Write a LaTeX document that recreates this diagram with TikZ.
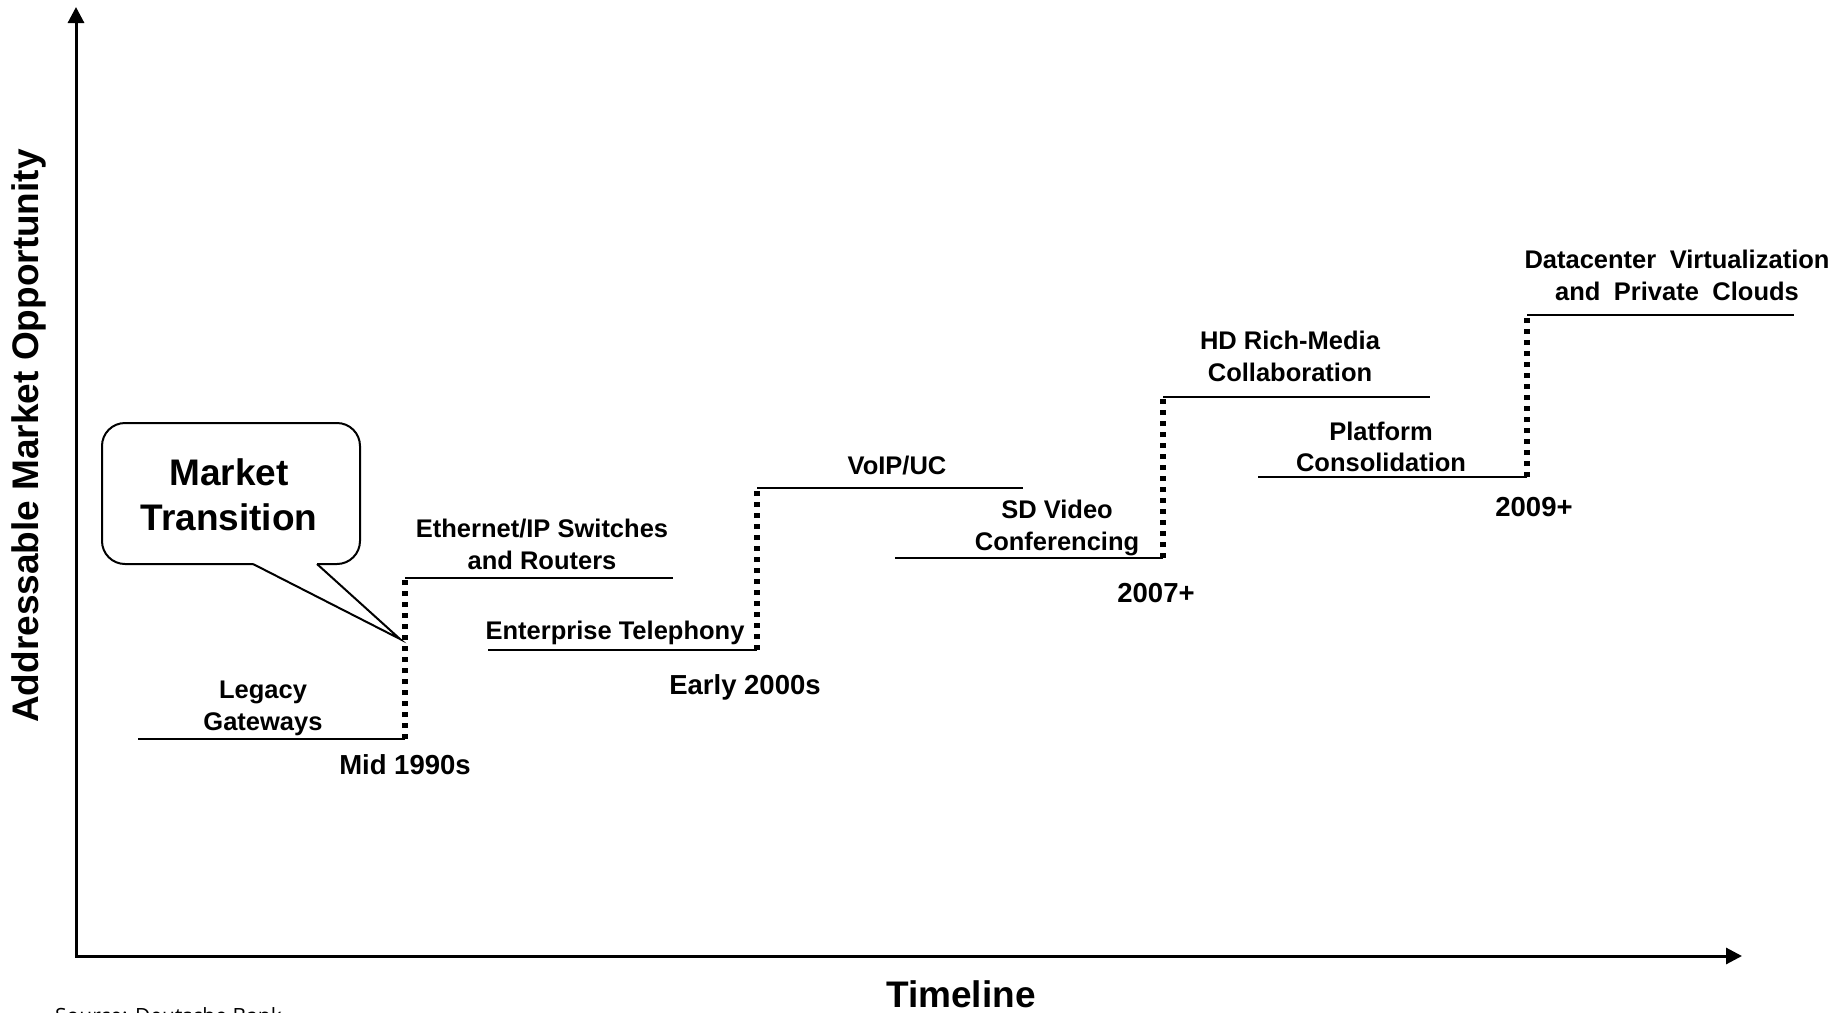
\documentclass[tikz,border=0pt]{standalone}
\usepackage{fontspec}
\setmainfont{Liberation Sans}
\newfontfamily\srcfont{Open Sans}
\usetikzlibrary{arrows.meta}
\tikzset{
  lbl/.style={font=\bfseries\fontsize{25.5}{32}\selectfont, align=center, inner sep=0pt},
  onelbl/.style={font=\bfseries\fontsize{25.5}{32}\selectfont, inner sep=0pt, text height=18.4pt, text depth=0pt},
  yr/.style={font=\bfseries\fontsize{27.5}{32}\selectfont, inner sep=0pt, text height=19.8pt, text depth=0pt},
  big/.style={font=\bfseries\fontsize{37}{45}\selectfont, align=center, inner sep=0pt},
  stepline/.style={line width=2.5pt},
  riser/.style={line width=5.5pt, dash pattern=on 5pt off 6pt},
  axisline/.style={line width=3pt, {Triangle[length=16pt,width=16pt]}-{Triangle[length=16pt,width=16pt]}},
  bubble/.style={line width=2pt, line join=miter}
}
\begin{document}
\begin{tikzpicture}[x=1pt,y=-1pt]
\useasboundingbox (0,0) rectangle (1847,1012);
% axes
\coordinate (origin) at (76,956);
\coordinate (ytip) at (76,7);
\coordinate (xtip) at (1742,956);
\draw[axisline] (ytip) -- (origin) -- (xtip);
\node[font=\bfseries\fontsize{37}{45}\selectfont, rotate=90, inner sep=0pt] (ylab) at (29,436) {Addressable Market Opportunity};
\node[font=\bfseries\fontsize{37}{45}\selectfont, inner sep=0pt, text height=26.6pt, text depth=0pt] (xlab) at (961,994) {Timeline};
% steps
\coordinate (s1a) at (138,739);
\coordinate (s1b) at (405,739);
\coordinate (s1c) at (405,578);
\coordinate (s1d) at (673,578);
\coordinate (s2a) at (488,650);
\coordinate (s2b) at (757,650);
\coordinate (s2c) at (757,488);
\coordinate (s2d) at (1023,488);
\coordinate (s3a) at (895,558);
\coordinate (s3b) at (1163,558);
\coordinate (s3c) at (1163,397);
\coordinate (s3d) at (1430,397);
\coordinate (s4a) at (1258,477);
\coordinate (s4b) at (1527,477);
\coordinate (s4c) at (1527,315);
\coordinate (s4d) at (1794,315);
\draw[stepline] (s1a) -- (s1b);
\draw[stepline] (s1c) -- (s1d);
\draw[riser] (s1b) -- (s1c);
\draw[stepline] (s2a) -- (s2b);
\draw[stepline] (s2c) -- (s2d);
\draw[riser] (s2b) -- (s2c);
\draw[stepline] (s3a) -- (s3b);
\draw[stepline] (s3c) -- (s3d);
\draw[riser] (s3b) -- (s3c);
\draw[stepline] (s4a) -- (s4b);
\draw[stepline] (s4c) -- (s4d);
\draw[riser] (s4b) -- (s4c);
% labels
\node[lbl] (legacy) at (263,708.6) {Legacy\\Gateways};
\node[yr] (y1) at (405,765) {Mid 1990s};
\node[lbl] (ether) at (542,544) {Ethernet/IP Switches\\and Routers};
\node[onelbl] (tel) at (615,630) {Enterprise Telephony};
\node[yr] (y2) at (745,685) {Early 2000s};
\node[onelbl] (voip) at (897,465) {VoIP/UC};
\node[lbl] (sdv) at (1057,527.6) {SD Video\\Conferencing};
\node[yr] (y3) at (1156,593) {2007+};
\node[lbl] (hd) at (1290,356) {HD Rich-Media\\Collaboration};
\node[lbl, font=\bfseries\fontsize{25.5}{31}\selectfont] (plat) at (1381,447) {Platform\\Consolidation};
\node[yr] (y4) at (1534,507) {2009+};
\node[lbl, font=\bfseries\fontsize{25.5}{32}\selectfont] (dc) at (1677,275) {Datacenter\hspace{13.5pt}Virtualization\\and\hspace{13.5pt}Private\hspace{13.5pt}Clouds};
% callout
\coordinate (tip) at (400,639);
\coordinate (pl) at (253,564);
\coordinate (pr) at (317,564);
\draw[bubble, rounded corners=23pt] (pl) -- (102,564) -- (102,423) -- (360,423) -- (360,564) -- (pr);
\draw[bubble] (pl) -- (tip) -- (pr);
\node[big] (mt) at (229,494.5) {Market\\Transition};
% source
\node[anchor=base west, font=\srcfont\fontsize{21}{25}\selectfont, inner sep=0pt] (src) at (55,1023) {Source: Deutsche Bank};
\end{tikzpicture}
\end{document}
